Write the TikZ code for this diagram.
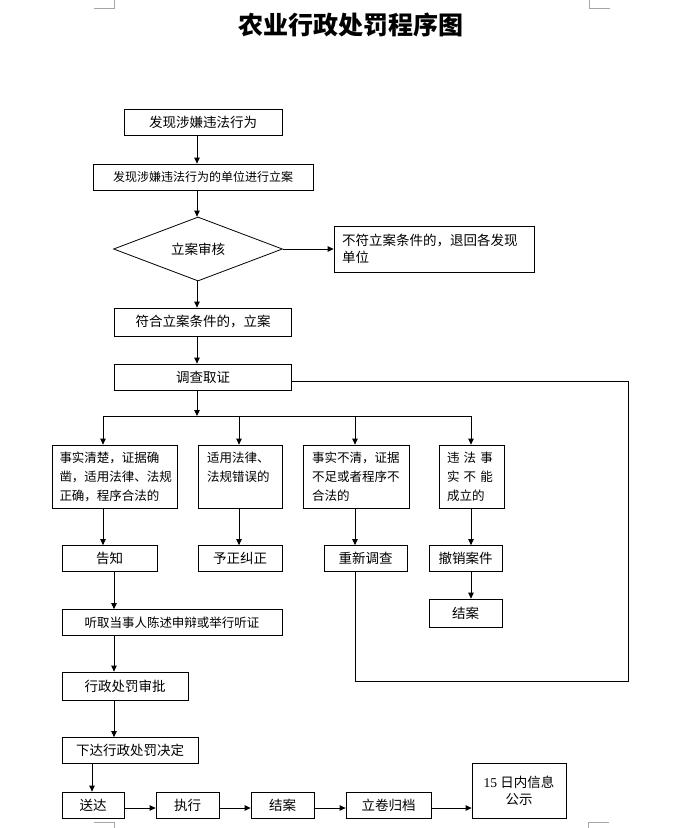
\documentclass[tikz,border=0pt]{standalone}
\usepackage{fontspec}
\setmainfont{Noto Sans CJK SC}
\newfontfamily\numfont{Liberation Serif}
\usepackage{tikz}
\usetikzlibrary{arrows.meta,shapes.geometric}
\tikzset{
  pf diagram/.style={x=1pt,y=-1pt,line width=0.8pt,
    font=\fontsize{13.5}{17}\selectfont},
  pf box/.style={draw,line width=0.8pt,inner sep=0pt,
    minimum height=26pt,align=center},
  pf note box/.style={pf box,align=left,minimum height=63pt,
    font=\fontsize{12.5}{19}\selectfont},
  pf decision/.style={draw,diamond,inner sep=0pt,aspect=2.64,
    minimum width=169pt,minimum height=64pt},
  pf arrow/.style={-{Triangle[length=6pt,width=5.5pt]}},
  pf mark/.style={draw=black!35,line width=0.6pt},
  pf title/.style={font=\fontsize{25}{29}\selectfont\bfseries}
}
\begin{document}
\begin{tikzpicture}[pf diagram]
\useasboundingbox (0,0) rectangle (688,828);
\draw[pf mark] (94,8) -- (114,8) -- (114,0);
\draw[pf mark] (589,0) -- (589,8) -- (610,8);
\draw[pf mark] (94,822) -- (114,822) -- (114,828);
\draw[pf mark] (588,828) -- (588,822) -- (609,822);
\node[pf title] (title) at (351,25) {农业行政处罚程序图};
\coordinate (spine) at (197,0);
\coordinate (colA) at (103,0);
\coordinate (colB) at (239,0);
\coordinate (colC) at (355,0);
\coordinate (colD) at (471,0);
\coordinate (colL) at (114,0);
\coordinate (colS) at (92,0);
\coordinate (busline) at (0,808);
\coordinate (looptop) at (0,381);
\coordinate (loop) at (628,681);
\coordinate (split) at (197,416);
\node[pf box,minimum width=158pt] (find) at (203,122) {发现涉嫌违法行为};
\node[pf box,minimum width=220pt,font=\fontsize{12}{14}\selectfont] (unit) at (203,177) {发现涉嫌违法行为的单位进行立案};
\node[pf decision] (check) at (198,249) {立案审核};
\node[pf box,align=left,text width=184pt,inner xsep=8pt,minimum height=46pt] (reject) at (434,249) {不符立案条件的，退回各发现\\单位};
\node[pf box,minimum width=177pt,minimum height=28pt] (accept) at (203,322) {符合立案条件的，立案};
\node[pf box,minimum width=177pt] (survey) at (203,377) {调查取证};
\node[pf note box,text width=110pt,inner xsep=7.5pt] (clear) at (114.5,476.5) {事实清楚，证据确\\凿，适用法律、法规\\正确，程序合法的};
\node[pf note box,text width=66pt,inner xsep=9pt] (wrong) at (240,476.5) {适用法律、\\法规错误的\\\mbox{}};
\node[pf note box,text width=88pt,inner xsep=9pt] (unclear) at (356,476.5) {事实不清，证据\\不足或者程序不\\合法的};
\node[pf note box,text width=49pt,inner xsep=8pt] (invalid) at (471.5,476.5) {违 法 事\\实 不 能\\成立的};
\node[pf box,minimum width=95pt] (notify) at (109.5,558.5) {告知};
\node[pf box,minimum width=84pt] (correct) at (240,558.5) {予正纠正};
\node[pf box,minimum width=83pt] (redo) at (365.5,558.5) {重新调查};
\node[pf box,minimum width=73pt] (revoke) at (465.5,558.5) {撤销案件};
\node[pf box,minimum width=73pt,minimum height=28pt] (closeA) at (465.5,613) {结案};
\node[pf box,minimum width=220pt,font=\fontsize{12.5}{15}\selectfont] (hear) at (172,622.5) {听取当事人陈述申辩或举行听证};
\node[pf box,minimum width=126pt,minimum height=28pt] (approve) at (125,686) {行政处罚审批};
\node[pf box,minimum width=136pt] (decide) at (130,750.5) {下达行政处罚决定};
\node[pf box,minimum width=62pt] (deliver) at (93,805) {送达};
\node[pf box,minimum width=63pt] (execute) at (187.5,805) {执行};
\node[pf box,minimum width=63pt] (closeB) at (282.5,805) {结案};
\node[pf box,minimum width=85pt] (archive) at (388.5,805) {立卷归档};
\node[pf box,minimum width=94pt,minimum height=55pt] (publish) at (519,790.5) {{\numfont 15} 日内信息\\公示};
\draw[pf arrow] (find.south -| spine) -- (unit.north -| spine);
\draw[pf arrow] (unit.south -| spine) -- (check.north -| spine);
\draw[pf arrow] (check.east) -- (reject.west);
\draw[pf arrow] (check.south -| spine) -- (accept.north -| spine);
\draw[pf arrow] (accept.south -| spine) -- (survey.north -| spine);
\draw[pf arrow] (survey.south -| spine) -- (split);
\draw (split -| colA) -- (split -| colD);
\foreach \c/\n in {colA/clear,colB/wrong,colC/unclear,colD/invalid}
  \draw[pf arrow] (split -| \c) -- (\n.north -| \c);
\foreach \a/\b/\c in {clear/notify/colA,wrong/correct/colB,unclear/redo/colC,
    invalid/revoke/colD,revoke/closeA/colD,notify/hear/colL,hear/approve/colL,
    approve/decide/colL,decide/deliver/colS}
  \draw[pf arrow] (\a.south -| \c) -- (\b.north -| \c);
\foreach \a/\b in {deliver/execute,execute/closeB,closeB/archive,archive/publish}
  \draw[pf arrow] (\a.east |- busline) -- (\b.west |- busline);
\draw (survey.east |- looptop) -- (looptop -| loop) -- (loop) -- (loop -| colC) -- (redo.south -| colC);
\end{tikzpicture}
\end{document}
